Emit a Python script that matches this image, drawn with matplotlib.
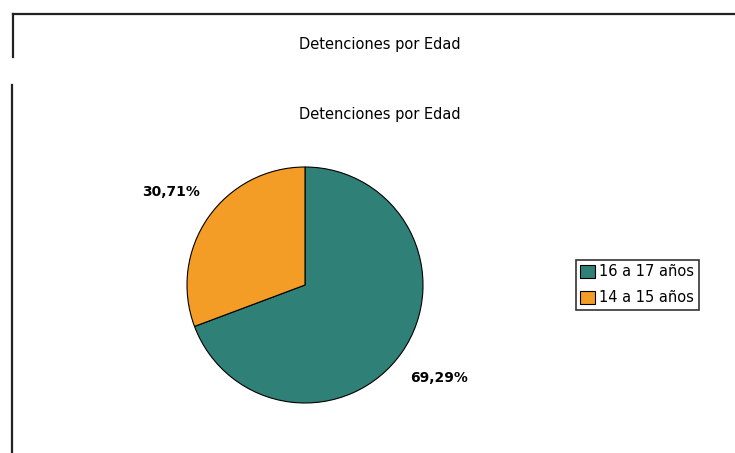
import matplotlib
matplotlib.use('Agg')
import matplotlib.pyplot as plt
from matplotlib.lines import Line2D
from matplotlib.patches import Patch

# Data
categories = ['16 a 17 años', '14 a 15 años']
values = [69.29, 30.71]
colors = ['#2f8077', '#f39c26']
title = 'Detenciones por Edad'

W, H = 735, 453
fig = plt.figure(figsize=(W / 100, H / 100), dpi=100)
fig.patch.set_facecolor('white')


def fx(px):
    return px / W


def fy(py):
    return 1 - py / H


# Frame lines (top box and lower box, as cut in the reference)
fig.add_artist(Line2D([fx(13), 1], [fy(14), fy(14)], color='#222222', lw=1.6))
fig.add_artist(Line2D([fx(13), fx(13)], [fy(14), fy(57)], color='#222222', lw=1.6))
fig.add_artist(Line2D([fx(12), fx(12)], [fy(85), 0], color='#222222', lw=1.6))

fig.text(fx(380), fy(44), title, ha='center', va='center', fontsize=10.5)
fig.text(fx(380), fy(114), title, ha='center', va='center', fontsize=10.5)

# Pie axes centered at (305, 285) px
cx, cy, half = 305, 285, 120
ax = fig.add_axes([fx(cx - half), fy(cy + half), 2 * half / W, 2 * half / H])
wedges, texts, autotexts = ax.pie(
    values, colors=colors, startangle=90, counterclock=False,
    radius=118 / half,
    wedgeprops=dict(edgecolor='black', linewidth=0.8),
    autopct=lambda p: f'{p:.2f}%'.replace('.', ','),
    pctdistance=1.38,
    textprops=dict(fontsize=10, fontweight='bold'))
ax.set_xlim(-1, 1)
ax.set_ylim(-1, 1)
ax.set_aspect('equal')
ax.set_clip_on(False)

# Legend (runs off the right edge like the reference)
handles = [Patch(facecolor=c, edgecolor='black', linewidth=0.8) for c in colors]
leg = fig.legend(handles, categories, loc='upper left',
                 bbox_to_anchor=(fx(576), fy(260)), fontsize=10.5,
                 frameon=True, fancybox=False, edgecolor='black',
                 handlelength=1.0, handleheight=1.0, handletextpad=0.3,
                 borderpad=0.3, borderaxespad=0, labelspacing=0.75)
leg.get_frame().set_linewidth(1.2)

fig.savefig('out.png', dpi=100)
